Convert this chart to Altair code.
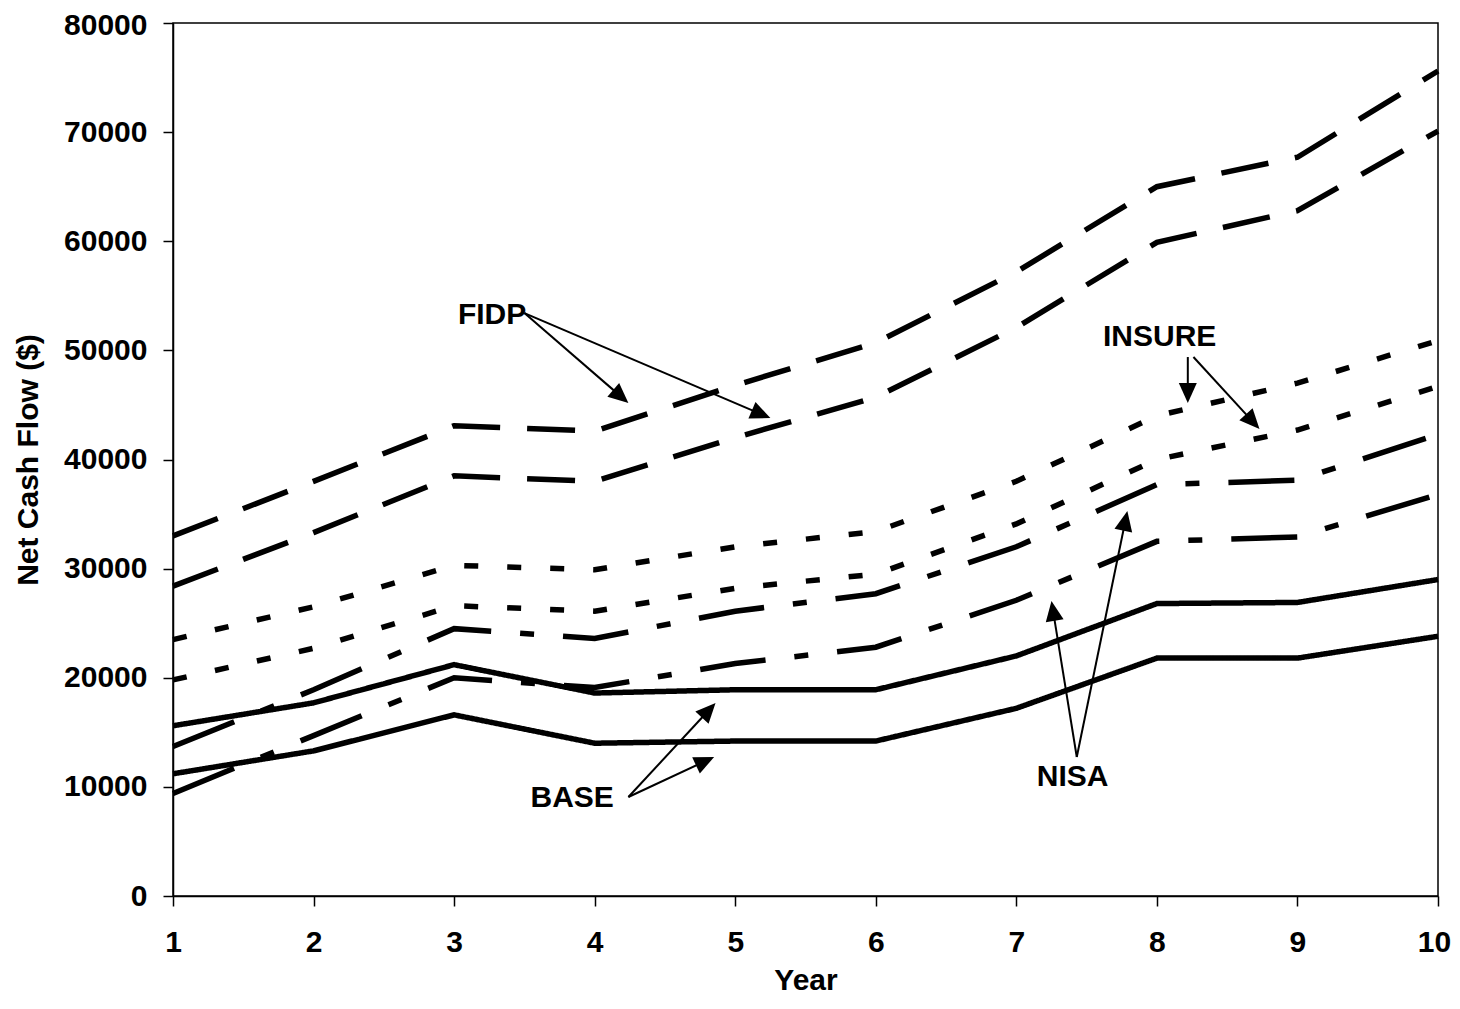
import math
import altair as alt
import pandas as pd

# ---------------- data ----------------
years = [1, 2, 3, 4, 5, 6, 7, 8, 9, 10]

fidp_high = [33000, 38000, 43100, 42600, 46800, 50700, 57200, 65000, 67700, 75600]
fidp_low = [28400, 33300, 38500, 38000, 42000, 45700, 52100, 59900, 62800, 70100]
insure_high = [23500, 26500, 30300, 29900, 32000, 33400, 38000, 44000, 47000, 50900]
insure_low = [19800, 22700, 26600, 26100, 28200, 29500, 34100, 40000, 42700, 46700]
nisa_high = [13700, 18900, 24500, 23600, 26100, 27700, 32000, 37700, 38100, 42300]
nisa_low = [9400, 14700, 20000, 19100, 21300, 22800, 27100, 32500, 32900, 36800]
base_high = [15600, 17700, 21200, 18600, 18900, 18900, 22000, 26800, 26900, 29000]
base_low = [11200, 13300, 16600, 14000, 14200, 14200, 17200, 21800, 21800, 23800]

series = [
    ("FIDP high", "FIDP", fidp_high),
    ("FIDP low", "FIDP", fidp_low),
    ("INSURE high", "INSURE", insure_high),
    ("INSURE low", "INSURE", insure_low),
    ("NISA high", "NISA", nisa_high),
    ("NISA low", "NISA", nisa_low),
    ("BASE high", "BASE", base_high),
    ("BASE low", "BASE", base_low),
]

# annotation labels (data coordinates)
label_text = ["FIDP", "INSURE", "BASE", "NISA"]
label_year = [3.27, 8.02, 3.84, 7.40]
label_value = [53250, 51230, 8980, 10900]

# arrows: start -> tip (data coordinates)
arrow_x = [3.50, 3.50, 8.22, 8.26, 4.24, 4.24, 7.43, 7.43]
arrow_y = [53420, 53420, 49390, 49390, 9070, 9070, 12740, 12740]
arrow_x2 = [4.24, 5.25, 8.22, 8.73, 4.86, 4.85, 7.25, 7.79]
arrow_y2 = [45180, 43800, 45180, 42800, 17690, 12740, 27030, 35280]

# ---------------- layout ----------------
W, H = 1265, 873
X_MIN, X_MAX = 1, 10
Y_MIN, Y_MAX = 0, 80000
FONT = "Liberation Sans"
FS = 30

rows = []
for name, group, vals in series:
    for yr, v in zip(years, vals):
        rows.append({"series": name, "group": group, "year": yr, "value": v})
df = pd.DataFrame(rows)

xs = alt.Scale(domain=[X_MIN, X_MAX], nice=False, zero=False)
ys = alt.Scale(domain=[Y_MIN, Y_MAX], nice=False)

lines = alt.Chart(df).mark_line(strokeWidth=5.5, color="black", strokeCap="butt").encode(
    x=alt.X("year:Q", scale=xs, title="Year",
            axis=alt.Axis(values=years, format="d", tickSize=10, labelPadding=21,
                          titlePadding=8, grid=False, labelFlush=False,
                          labelOffset={"condition": {"test": "datum.value === 10", "value": -4},
                                       "value": 0})),
    y=alt.Y("value:Q", scale=ys, title="Net Cash Flow ($)",
            axis=alt.Axis(values=list(range(0, 80001, 10000)), format="d", tickSize=10,
                          labelPadding=16, titlePadding=20, grid=False, labelFlush=False,
                          labelOffset={"condition": {"test": "datum.value === 80000", "value": 2},
                                       "value": 0})),
    detail="series:N",
    strokeDash=alt.StrokeDash(
        "group:N",
        scale=alt.Scale(domain=["FIDP", "INSURE", "NISA", "BASE"],
                        range=[[48, 27], [14, 29], [66, 29, 14, 29], [1, 0]]),
        legend=None,
    ),
)

# arrow geometry
px_per_x = W / (X_MAX - X_MIN)
px_per_y = H / (Y_MAX - Y_MIN)
head_half = 10  # px from symbol center to tip
arows = []
for x1, y1, x2, y2 in zip(arrow_x, arrow_y, arrow_x2, arrow_y2):
    dxp = (x2 - x1) * px_per_x
    dyp = -(y2 - y1) * px_per_y  # screen coordinates, down positive
    L = math.hypot(dxp, dyp)
    ux, uy = dxp / L, dyp / L
    ang = math.degrees(math.atan2(ux, -uy)) % 360
    cx = x2 - ux * head_half / px_per_x
    cy = y2 + uy * head_half / px_per_y
    sx = x2 - ux * (head_half + 2) / px_per_x
    sy = y2 + uy * (head_half + 2) / px_per_y
    arows.append({"x": x1, "y": y1, "sx": sx, "sy": sy, "cx": cx, "cy": cy, "angle": ang})
adf = pd.DataFrame(arows)

shafts = alt.Chart(adf).mark_rule(color="black", strokeWidth=2).encode(
    x=alt.X("x:Q", scale=xs), y=alt.Y("y:Q", scale=ys),
    x2="sx:Q", y2="sy:Q",
)
heads = alt.Chart(adf).mark_point(
    shape="M0,-1L-0.9,1L0.9,1Z", filled=True, color="black", opacity=1, size=400
).encode(
    x=alt.X("cx:Q", scale=xs), y=alt.Y("cy:Q", scale=ys),
    angle=alt.Angle("angle:Q", scale=None),
)

ldf = pd.DataFrame({"text": label_text, "year": label_year, "value": label_value})
labels = alt.Chart(ldf).mark_text(
    font=FONT, fontSize=FS, fontWeight="bold", color="black", align="center", baseline="middle"
).encode(
    x=alt.X("year:Q", scale=xs), y=alt.Y("value:Q", scale=ys), text="text:N"
)

chart = (
    alt.layer(lines, shafts, heads, labels)
    .properties(
        width=W, height=H,
        autosize=alt.AutoSizeParams(type="none"),
        padding={"left": 165, "top": 15, "right": 14, "bottom": 100},
        background="white",
    )
    .configure_view(stroke="black", strokeWidth=1.5)
    .configure_axis(
        labelFont=FONT, labelFontSize=FS, labelFontWeight="bold", labelColor="black",
        titleFont=FONT, titleFontSize=FS, titleFontWeight="bold", titleColor="black",
        domainColor="black", domainWidth=1.5, tickColor="black", tickWidth=1.5,
    )
)

chart.save("out.html", embed_options={"renderer": "svg", "actions": False})
